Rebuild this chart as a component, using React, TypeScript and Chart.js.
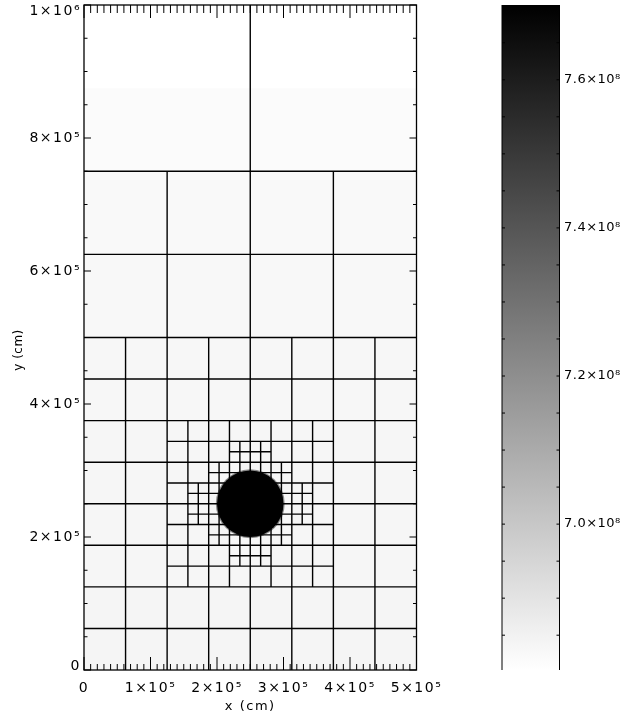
import React, { useEffect, useRef } from 'react';
import { Chart, registerables } from 'chart.js';

Chart.register(...registerables);

const FONT = 'DejaVu Sans';

// Axes ranges (cm)
const X_MIN = 0;
const X_MAX = 5e5;
const Y_MIN = 0;
const Y_MAX = 1e6;

const xTickValues = [0, 1e5, 2e5, 3e5, 4e5, 5e5];
const xTickLabels = ['0', '1×10⁵', '2×10⁵', '3×10⁵', '4×10⁵', '5×10⁵'];
const yTickValues = [0, 2e5, 4e5, 6e5, 8e5, 1e6];
const yTickLabels = ['0', '2×10⁵', '4×10⁵', '6×10⁵', '8×10⁵', '1×10⁶'];
const xMinorStep = 1e4;
const xMajorEvery = 10;
const yMinorStep = 5e4;
const yMajorEvery = 4;

// Colour bar (density)
const CB_MIN = 6.803e8;
const CB_MAX = 7.701e8;
const cbTickValues = [7.0e8, 7.2e8, 7.4e8, 7.6e8];
const cbTickLabels = ['7.0×10⁸', '7.2×10⁸', '7.4×10⁸', '7.6×10⁸'];
const cbMinorStep = 0.05e8;

// Background field: horizontal bands [yBottom, yTop] with density
const bandBottom = [0, 62500, 125000, 187500, 250000, 312500, 375000, 437500, 500000, 625000, 750000, 875000];
const bandTop = [62500, 125000, 187500, 250000, 312500, 375000, 437500, 500000, 625000, 750000, 875000, 1000000];
const bandDensity = [6.838e8, 6.837e8, 6.836e8, 6.835e8, 6.834e8, 6.833e8, 6.832e8, 6.831e8, 6.826e8, 6.823e8, 6.816e8, 6.804e8];

// AMR block boundaries: horizontal [y, x0, x1], vertical [x, y0, y1]
const horizontalEdges: [number, number, number][] = [
  [750000, 0, 500000],
  [625000, 0, 500000],
  [500000, 0, 500000],
  [437500, 0, 500000],
  [375000, 0, 500000],
  [312500, 0, 500000],
  [250000, 0, 500000],
  [187500, 0, 500000],
  [125000, 0, 500000],
  [62500, 0, 500000],
  [343750, 125000, 375000],
  [281250, 125000, 375000],
  [218750, 125000, 375000],
  [156250, 125000, 375000],
  [328125, 218750, 281250],
  [296875, 187500, 312500],
  [265625, 156250, 343750],
  [234375, 156250, 343750],
  [203125, 187500, 312500],
  [171875, 218750, 281250],
];
const verticalEdges: [number, number, number][] = [
  [250000, 750000, 1000000],
  [125000, 500000, 750000],
  [250000, 500000, 750000],
  [375000, 500000, 750000],
  [62500, 0, 500000],
  [125000, 0, 500000],
  [187500, 0, 500000],
  [250000, 0, 500000],
  [312500, 0, 500000],
  [375000, 0, 500000],
  [437500, 0, 500000],
  [156250, 125000, 375000],
  [218750, 125000, 375000],
  [281250, 125000, 375000],
  [343750, 125000, 375000],
  [234375, 156250, 343750],
  [265625, 156250, 343750],
  [203125, 187500, 312500],
  [296875, 187500, 312500],
  [171875, 218750, 281250],
  [328125, 218750, 281250],
];

// Dense sphere
const sphereX = [250000];
const sphereY = [250000];
const sphereRadius = [50000];
const sphereDensity = [7.701e8];

function grayFor(v: number): string {
  const t = Math.min(1, Math.max(0, (v - CB_MIN) / (CB_MAX - CB_MIN)));
  const g = Math.round(255 * (1 - t));
  return `rgb(${g},${g},${g})`;
}

const spacingPlugin = (spacing: string) => ({
  id: 'letterSpacing',
  beforeDraw(chart: any) {
    (chart.ctx as any).letterSpacing = spacing;
  },
  afterDraw(chart: any) {
    (chart.ctx as any).letterSpacing = '0px';
  },
});

const framePlugin = {
  id: 'frameTicks',
  afterDatasetsDraw(chart: any) {
    const { ctx, chartArea: a, scales } = chart;
    const xs = scales.x;
    const ys = scales.y;
    ctx.save();
    ctx.strokeStyle = '#000';
    ctx.lineWidth = 1;
    const nx = Math.round((X_MAX - X_MIN) / xMinorStep);
    for (let i = 0; i <= nx; i++) {
      const px = xs.getPixelForValue(X_MIN + i * xMinorStep);
      const major = i % xMajorEvery === 0;
      ctx.beginPath();
      ctx.moveTo(px, a.bottom);
      ctx.lineTo(px, a.bottom - (major ? 13 : 6));
      ctx.moveTo(px, a.top);
      ctx.lineTo(px, a.top + (major ? 13 : 8));
      ctx.stroke();
    }
    const ny = Math.round((Y_MAX - Y_MIN) / yMinorStep);
    for (let i = 0; i <= ny; i++) {
      const py = ys.getPixelForValue(Y_MIN + i * yMinorStep);
      const len = i % yMajorEvery === 0 ? 7 : 3.5;
      ctx.beginPath();
      ctx.moveTo(a.left, py);
      ctx.lineTo(a.left + len, py);
      ctx.moveTo(a.right, py);
      ctx.lineTo(a.right - len, py);
      ctx.stroke();
    }
    ctx.lineWidth = 1.3;
    ctx.strokeRect(a.left, a.top, a.right - a.left, a.bottom - a.top);
    ctx.restore();
  },
  afterDraw(chart: any) {
    const { ctx } = chart;
    ctx.save();
    (ctx as any).letterSpacing = '0.5px';
    ctx.translate(19, 350);
    ctx.rotate(-Math.PI / 2);
    ctx.font = `12px "${FONT}"`;
    ctx.fillStyle = '#000';
    ctx.textAlign = 'center';
    ctx.textBaseline = 'middle';
    ctx.fillText('y (cm)', 0, 0);
    ctx.restore();
  },
};

const cbFramePlugin = {
  id: 'cbFrame',
  afterDatasetsDraw(chart: any) {
    const { ctx, chartArea: a, scales } = chart;
    const ys = scales.y;
    ctx.save();
    ctx.strokeStyle = '#000';
    ctx.lineWidth = 1;
    const k0 = Math.ceil(CB_MIN / cbMinorStep);
    const k1 = Math.floor(CB_MAX / cbMinorStep);
    for (let k = k0; k <= k1; k++) {
      const py = ys.getPixelForValue(k * cbMinorStep);
      ctx.beginPath();
      ctx.moveTo(a.left, py);
      ctx.lineTo(a.left + 3, py);
      ctx.moveTo(a.right, py);
      ctx.lineTo(a.right - 3, py);
      ctx.stroke();
    }
    ctx.beginPath();
    ctx.moveTo(a.left, a.top);
    ctx.lineTo(a.left, a.bottom);
    ctx.moveTo(a.right, a.top);
    ctx.lineTo(a.right, a.bottom);
    ctx.stroke();
    ctx.restore();
  },
};

const noPad = (s: any) => {
  s.paddingTop = 0;
  s.paddingBottom = 0;
  s.paddingLeft = 0;
  s.paddingRight = 0;
};

export default function App() {
  const mainRef = useRef<HTMLCanvasElement | null>(null);
  const cbRef = useRef<HTMLCanvasElement | null>(null);

  useEffect(() => {
    if (!mainRef.current || !cbRef.current) return;

    const radiusPx = (ctx: any, extra: number) => {
      const s = ctx.chart.scales.x;
      return Math.abs(s.getPixelForValue(sphereRadius[0]) - s.getPixelForValue(0)) + extra;
    };

    const datasets: any[] = [];
    // sphere (top-most)
    datasets.push({
      type: 'line',
      order: 0,
      data: sphereX.map((x, i) => ({ x, y: sphereY[i] })),
      showLine: false,
      pointRadius: (ctx: any) => radiusPx(ctx, 0),
      pointBackgroundColor: grayFor(sphereDensity[0]),
      pointBorderWidth: 0,
    });
    datasets.push({
      type: 'line',
      order: 1,
      data: sphereX.map((x, i) => ({ x, y: sphereY[i] })),
      showLine: false,
      pointRadius: (ctx: any) => radiusPx(ctx, 1.2),
      pointBackgroundColor: 'rgba(0,0,0,0.45)',
      pointBorderWidth: 0,
    });
    // block boundaries
    horizontalEdges.forEach(([y, x0, x1]) => {
      datasets.push({
        type: 'line',
        order: 2,
        data: [{ x: x0, y }, { x: x1, y }],
        borderColor: '#000',
        borderWidth: 1.4,
        pointRadius: 0,
        fill: false,
      });
    });
    verticalEdges.forEach(([x, y0, y1]) => {
      datasets.push({
        type: 'line',
        order: 2,
        data: [{ x, y: y0 }, { x, y: y1 }],
        borderColor: '#000',
        borderWidth: 1.4,
        pointRadius: 0,
        fill: false,
      });
    });
    // background field bands
    bandBottom.forEach((b, i) => {
      datasets.push({
        type: 'line',
        order: 3,
        data: [{ x: X_MIN, y: bandTop[i] }, { x: X_MAX, y: bandTop[i] }],
        borderWidth: 0,
        borderColor: 'rgba(0,0,0,0)',
        pointRadius: 0,
        fill: { value: b },
        backgroundColor: grayFor(bandDensity[i]),
      });
    });

    const main = new Chart(mainRef.current, {
      type: 'line',
      data: { datasets },
      options: {
        responsive: false,
        animation: false,
        events: [],
        layout: { padding: { top: 5, right: 63.5, left: 0, bottom: 0 } },
        plugins: {
          legend: { display: false },
          tooltip: { enabled: false },
          filler: { drawTime: 'beforeDatasetsDraw' },
        } as any,
        scales: {
          x: {
            type: 'linear',
            min: X_MIN,
            max: X_MAX,
            afterBuildTicks: (s: any) => {
              s.ticks = xTickValues.map((v) => ({ value: v }));
            },
            afterFit: (s: any) => {
              s.height = 46;
              noPad(s);
            },
            ticks: {
              autoSkip: false,
              maxRotation: 0,
              padding: 10,
              color: '#000',
              font: { family: FONT, size: 14 },
              callback: (v: any) => xTickLabels[xTickValues.indexOf(Number(v))] ?? '',
            },
            grid: { display: false, drawTicks: false },
            border: { display: false },
            title: {
              display: true,
              text: 'x (cm)',
              color: '#000',
              font: { family: FONT, size: 13 },
              padding: { top: 0, bottom: 2 },
            },
          },
          y: {
            type: 'linear',
            min: Y_MIN,
            max: Y_MAX,
            afterBuildTicks: (s: any) => {
              s.ticks = yTickValues.map((v) => ({ value: v }));
            },
            afterFit: (s: any) => {
              s.width = 84;
              noPad(s);
            },
            ticks: {
              autoSkip: false,
              padding: 3,
              color: '#000',
              font: (ctx: any) => {
                const last = yTickValues.length - 1;
                if (ctx.index === last) return { family: FONT, size: 14, lineHeight: '12px' };
                if (ctx.index === 0) return { family: FONT, size: 14, lineHeight: '8px' };
                return { family: FONT, size: 14 };
              },
              callback: (v: any) => {
                const i = yTickValues.indexOf(Number(v));
                if (i < 0) return '';
                if (i === yTickValues.length - 1) return ['', yTickLabels[i]];
                if (i === 0) return [yTickLabels[i], ''];
                return yTickLabels[i];
              },
            },
            grid: { display: false, drawTicks: false },
            border: { display: false },
          },
        },
      } as any,
      plugins: [spacingPlugin('1.5px'), framePlugin],
    });

    const cb = new Chart(cbRef.current, {
      type: 'bar',
      data: {
        labels: ['density'],
        datasets: [
          {
            data: [[CB_MIN, CB_MAX]] as any,
            barPercentage: 1,
            categoryPercentage: 1,
            borderWidth: 0,
            backgroundColor: (ctx: any) => {
              const { chart } = ctx;
              const ys = chart.scales.y;
              if (!ys || !chart.chartArea) return '#888';
              const g = chart.ctx.createLinearGradient(0, ys.getPixelForValue(CB_MIN), 0, ys.getPixelForValue(CB_MAX));
              g.addColorStop(0, grayFor(CB_MIN));
              g.addColorStop(1, grayFor(CB_MAX));
              return g;
            },
          },
        ],
      },
      options: {
        responsive: false,
        animation: false,
        events: [],
        layout: { padding: { top: 5, left: 22, right: 0, bottom: 46 } },
        plugins: { legend: { display: false }, tooltip: { enabled: false } },
        scales: {
          x: { display: false },
          y: {
            position: 'right',
            min: CB_MIN,
            max: CB_MAX,
            afterBuildTicks: (s: any) => {
              s.ticks = cbTickValues.map((v) => ({ value: v }));
            },
            afterFit: (s: any) => {
              s.width = 79.5;
              noPad(s);
            },
            ticks: {
              autoSkip: false,
              padding: 4.5,
              color: '#000',
              font: { family: FONT, size: 13 },
              callback: (v: any) => {
                const i = cbTickValues.findIndex((t) => Math.abs(t - Number(v)) < 1);
                return i >= 0 ? cbTickLabels[i] : '';
              },
            },
            grid: { display: false, drawTicks: false },
            border: { display: false },
          },
        },
      } as any,
      plugins: [spacingPlugin('0.5px'), cbFramePlugin],
    });

    return () => {
      main.destroy();
      cb.destroy();
    };
  }, []);

  return (
    <div style={{ position: 'absolute', left: 0, top: 0, width: 639, height: 716, background: '#fff' }}>
      <canvas ref={mainRef} width={480} height={716} style={{ position: 'absolute', left: 0, top: 0 }} />
      <canvas ref={cbRef} width={159} height={716} style={{ position: 'absolute', left: 480, top: 0 }} />
    </div>
  );
}
